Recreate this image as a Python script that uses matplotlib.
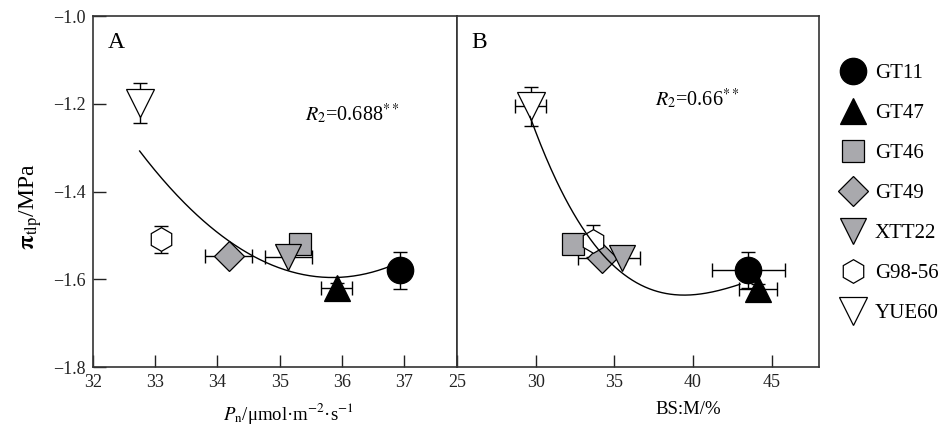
import numpy as np
import matplotlib.pyplot as plt

plt.rcParams['font.family'] = ['Liberation Serif', 'DejaVu Serif']
plt.rcParams['mathtext.fontset'] = 'stix'

cultivars = ["GT11", "GT47", "GT46", "GT49", "XTT22", "G98-56", "YUE60"]
markers = ["o", "^", "s", "D", "v", "h", "v"]
faces = ["black", "black", "#a9a9ad", "#a9a9ad", "#a9a9ad", "white", "white"]
sizes = [19, 19, 16, 15, 19, 17, 20]

# turgor loss point (MPa)
tlp_a = [-1.58, -1.62, -1.52, -1.548, -1.55, -1.509, -1.198]
tlp_a_err = [0.042, 0.012, 0.0, 0.0, 0.0, 0.03, 0.046]

# net photosynthetic rate
pn = [36.93, 35.92, 35.33, 34.18, 35.14, 33.10, 32.75]
pn_err = [0.0, 0.25, 0.0, 0.38, 0.38, 0.0, 0.0]

# bundle sheath : mesophyll ratio
tlp_b = [-1.579, -1.623, -1.52, -1.551, -1.551, -1.513, -1.206]
tlp_b_err = [0.041, 0.012, 0.0, 0.0, 0.0, 0.036, 0.045]
bsm = [43.51, 44.15, 32.39, 34.19, 35.46, 33.66, 29.68]
bsm_err = [2.3, 1.2, 0.0, 1.5, 1.2, 0.0, 1.0]

# quadratic trend for panel A: y = a*(x-h)^2 + k
fit_a = (0.030, 35.85, -1.596)
fit_a_range = (32.75, 36.75)
# cubic trend for panel B in t = x - 29.64
fit_b = (-1.229, -0.09953, 0.007593, -0.000171)
fit_b_range = (29.64, 42.98)

fig = plt.figure(figsize=(9.42, 4.33), dpi=100)
ax_a = fig.add_axes([0.0987, 0.1524, 0.3864, 0.8106])
ax_b = fig.add_axes([0.4851, 0.1524, 0.3843, 0.8106])


def draw_points(ax, xs, ys, xerr, yerr):
    for i in range(len(cultivars)):
        ax.errorbar(xs[i], ys[i], xerr=xerr[i] or None, yerr=yerr[i] or None,
                    fmt="none", ecolor="black", elinewidth=1.0,
                    capsize=5, capthick=1.0, zorder=2)
    handles = []
    for i in range(len(cultivars)):
        h, = ax.plot(xs[i], ys[i], linestyle="none", marker=markers[i],
                     markersize=sizes[i], markerfacecolor=faces[i],
                     markeredgecolor="black", markeredgewidth=0.9,
                     label=cultivars[i], zorder=3 + i * 0.01)
        handles.append(h)
    return handles


handles = draw_points(ax_a, pn, tlp_a, pn_err, tlp_a_err)
draw_points(ax_b, bsm, tlp_b, bsm_err, tlp_b_err)

xa = np.linspace(*fit_a_range, 200)
ax_a.plot(xa, fit_a[0] * (xa - fit_a[1]) ** 2 + fit_a[2],
          color="black", linewidth=1.0, zorder=4)

xb = np.linspace(*fit_b_range, 200)
t = xb - fit_b_range[0]
ax_b.plot(xb, fit_b[0] + fit_b[1] * t + fit_b[2] * t ** 2 + fit_b[3] * t ** 3,
          color="black", linewidth=1.0, zorder=4)

ax_a.set_xlim(32, 37.85)
ax_a.set_ylim(-1.8, -1.0)
ax_a.set_xticks([32, 33, 34, 35, 36, 37])
ax_a.set_yticks([-1.8, -1.6, -1.4, -1.2, -1.0])
ax_a.set_yticklabels(["\u22121.8", "\u22121.6", "\u22121.4", "\u22121.2", "\u22121.0"])

ax_b.set_xlim(25, 48)
ax_b.set_ylim(-1.8, -1.0)
ax_b.set_xticks([25, 30, 35, 40, 45])
ax_b.set_yticks([])

for ax in (ax_a, ax_b):
    ax.tick_params(direction="in", length=9, width=1.0, labelsize=13,
                   pad=5, colors="#222222")
    for s in ax.spines.values():
        s.set_linewidth(1.2)
        s.set_color("#333333")

ax_a.set_ylabel(r"$\mathbf{\pi}_{\mathrm{tlp}}$/MPa", fontsize=17)
ax_a.yaxis.set_label_coords(-0.134, 0.456)
ax_a.set_xlabel(r"$P_{\mathrm{n}}$/μmol·m$^{-2}$·s$^{-1}$", fontsize=13.5)
ax_a.xaxis.set_label_coords(0.536, -0.098)
ax_b.set_xlabel("BS:M/%", fontsize=13.5)
ax_b.xaxis.set_label_coords(0.64, -0.098)

ax_a.text(0.04, 0.955, "A", transform=ax_a.transAxes, fontsize=17,
          va="top", ha="left")
ax_b.text(0.04, 0.955, "B", transform=ax_b.transAxes, fontsize=17,
          va="top", ha="left")

ax_a.text(35.4, -1.222, r"$R_2$=0.688$^{**}$", fontsize=14.5, va="center")
ax_b.text(37.58, -1.189, r"$R_2$=0.66$^{**}$", fontsize=14.5, va="center")

fig.legend(handles=handles, loc="upper left", bbox_to_anchor=(0.879, 0.872),
           frameon=False, fontsize=15, handletextpad=0.25, labelspacing=0.98,
           borderaxespad=0, handlelength=1.6, numpoints=1)

fig.savefig("out.png", dpi=100)
